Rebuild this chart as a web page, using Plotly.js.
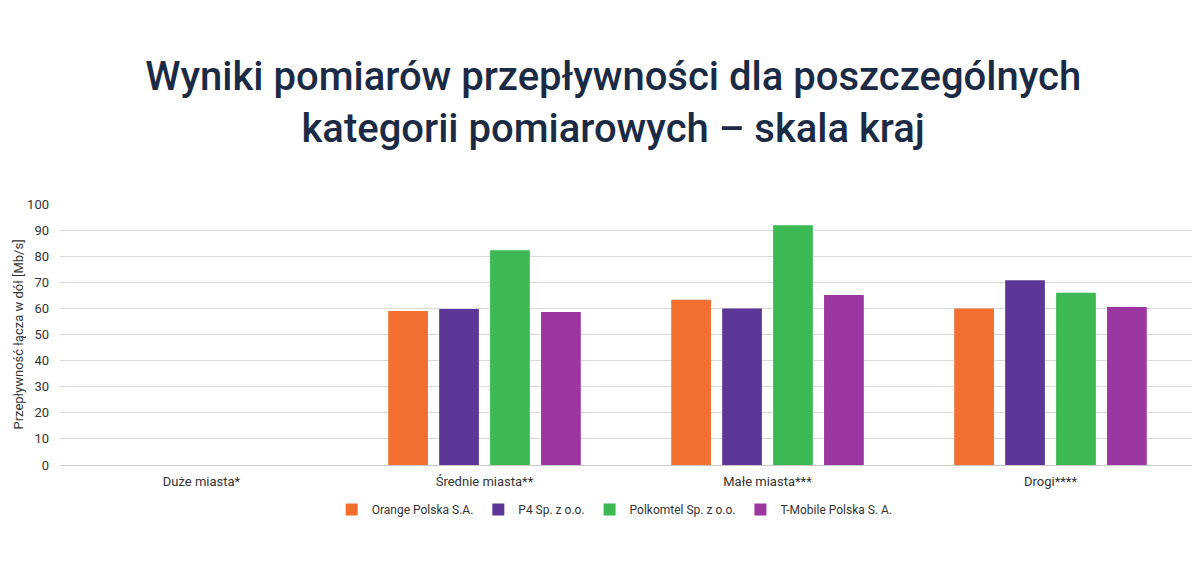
<!DOCTYPE html>
<html>
<head>
<meta charset="utf-8">
<script src="https://cdn.plot.ly/plotly-3.0.1.min.js"></script>
<style>html,body{margin:0;padding:0;background:#fff;}#chart{width:1200px;height:565px;}</style>
</head>
<body>
<div id="chart"></div>
<script>
const categories = ["Duże miasta*", "Średnie miasta**", "Małe miasta***", "Drogi****"];
const seriesNames = ["Orange Polska S.A.", "P4 Sp. z o.o.", "Polkomtel Sp. z o.o.", "T-Mobile Polska S. A."];
const orangeValues = [null, 59.0, 63.3, 60.0];
const p4Values = [null, 59.8, 60.0, 70.8];
const polkomtelValues = [null, 82.3, 91.9, 66.0];
const tmobileValues = [null, 58.6, 65.1, 60.5];
const yTicks = [0, 10, 20, 30, 40, 50, 60, 70, 80, 90, 100];

const colors = ["#f26f2f", "#5c3798", "#3cb954", "#9c36a0"];
const allValues = [orangeValues, p4Values, polkomtelValues, tmobileValues];

const traces = allValues.map((vals, i) => ({
  type: "bar",
  name: seriesNames[i],
  x: categories,
  y: vals,
  marker: {color: colors[i]},
  hoverinfo: "y+name"
}));

const font = "Roboto, 'Noto Sans', sans-serif";
const layout = {
  width: 1200,
  height: 565,
  paper_bgcolor: "#fff",
  plot_bgcolor: "#fff",
  margin: {l: 60, r: 8, t: 204, b: 100},
  title: {
    text: "Wyniki pomiarów przepływności dla poszczególnych<br>kategorii pomiarowych – skala kraj",
    font: {family: font, size: 40, color: "#1b2a45", weight: 500},
    x: 0.511,
    xanchor: "center",
    y: 0.84,
    yanchor: "middle"
  },
  barmode: "group",
  bargap: 0.28,
  bargroupgap: 0.22,
  showlegend: true,
  legend: {
    orientation: "h",
    x: 0.49,
    xanchor: "center",
    y: -0.115,
    yanchor: "top",
    font: {family: font, size: 12, color: "#333"},
    itemwidth: 30,
    tracegroupgap: 0
  },
  xaxis: {
    type: "category",
    tickfont: {family: font, size: 13, color: "#333"},
    showline: false,
    ticks: "",
    ticklabelstandoff: 7,
    fixedrange: true
  },
  yaxis: {
    range: [0, 100],
    tickvals: yTicks,
    ticktext: yTicks.map(String),
    tickfont: {family: font, size: 13, color: "#333"},
    gridcolor: "#d9d9d9",
    gridwidth: 1,
    zeroline: true,
    zerolinecolor: "#c8c8c8",
    zerolinewidth: 1,
    ticks: "",
    ticklen: 0,
    ticklabelstandoff: 10,
    title: {text: "Przepływność łącza w dół [Mb/s]", font: {family: font, size: 13, color: "#333"}, standoff: 0}
  }
};

Plotly.newPlot("chart", traces, layout, {displayModeBar: false, staticPlot: true});
</script>
</body>
</html>
